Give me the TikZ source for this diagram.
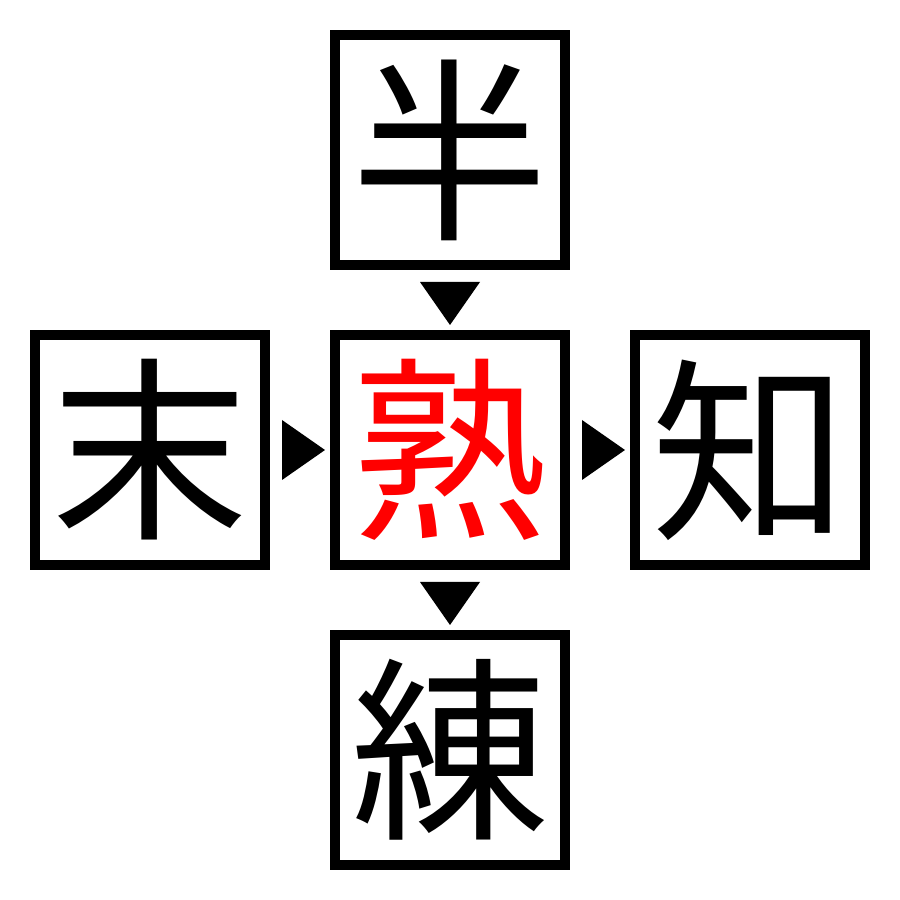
\documentclass[tikz,border=0pt]{standalone}
\usepackage{fontspec}
\newfontfamily\cjk{Noto Sans CJK JP}
\usepackage{tikz}
\usetikzlibrary{calc}

\begin{document}
\begin{tikzpicture}[kanji/.style={draw, line width=0.1cm, minimum size=2.3cm, inner sep=0pt, outer sep=0pt, font=\cjk\fontsize{56}{56}\selectfont}]
\useasboundingbox (0,0) rectangle (9,9);
% Boxes
\node[kanji, text=red] (mid) at (4.5,4.5) {熟};
\node[kanji] (top) at (4.5,7.5) {半};
\node[kanji] (left) at (1.5,4.5) {末};
\node[kanji] (right) at (7.5,4.5) {知};
\node[kanji] (bot) at (4.5,1.5) {練};

% Arrow heads
\fill ($(mid.west)+(-0.53,0.3)$) -- ($(mid.west)+(-0.53,-0.3)$) -- ($(mid.west)+(-0.1,0)$) -- cycle;
\fill ($(right.west)+(-0.53,0.3)$) -- ($(right.west)+(-0.53,-0.3)$) -- ($(right.west)+(-0.1,0)$) -- cycle;
\fill ($(mid.north)+(-0.3,0.53)$) -- ($(mid.north)+(0.3,0.53)$) -- ($(mid.north)+(0,0.1)$) -- cycle;
\fill ($(bot.north)+(-0.3,0.53)$) -- ($(bot.north)+(0.3,0.53)$) -- ($(bot.north)+(0,0.1)$) -- cycle;
\end{tikzpicture}
\end{document}
